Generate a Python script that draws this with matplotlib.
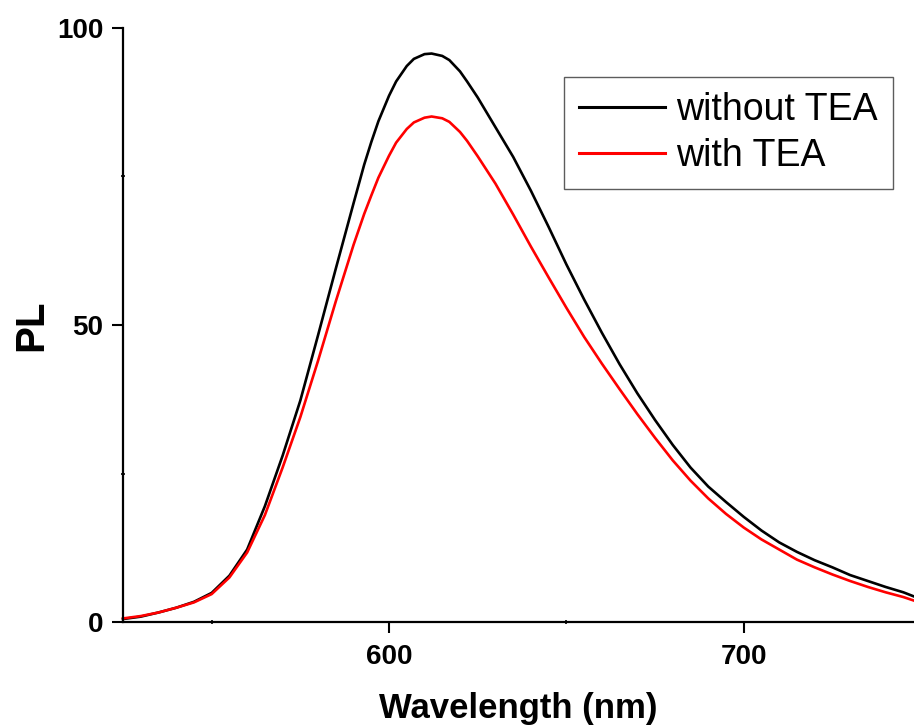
import matplotlib
matplotlib.use("Agg")
import matplotlib.pyplot as plt
from matplotlib.ticker import MultipleLocator

plt.rcParams['font.family'] = ['Liberation Sans', 'DejaVu Sans']

# Emission spectra (wavelength in nm, PL intensity in a.u.)
wavelength = [525, 530, 535, 540, 545, 550, 555, 560, 565, 570, 575, 580, 585,
              590, 593, 595, 597, 600, 602, 605, 607, 610, 612, 615, 617, 620,
              622, 625, 630, 635, 640, 645, 650, 655, 660, 665, 670, 675, 680,
              685, 690, 695, 700, 705, 710, 715, 720, 725, 730, 735, 740, 745,
              748]

pl_without_tea = [0.5, 0.9, 1.6, 2.4, 3.4, 4.9, 7.8, 12.2, 19.5, 28.0, 37.3, 48.3,
                  59.5, 70.5, 77.0, 80.8, 84.3, 88.6, 91.0, 93.6, 94.8, 95.6,
                  95.7, 95.3, 94.6, 92.7, 91.0, 88.3, 83.3, 78.3, 72.6, 66.5,
                  60.2, 54.3, 48.7, 43.4, 38.5, 34.0, 29.8, 26.0, 22.8, 20.2,
                  17.7, 15.4, 13.4, 11.8, 10.4, 9.2, 7.9, 6.9, 5.9, 5.0, 4.3]

pl_with_tea = [0.6, 1.0, 1.6, 2.4, 3.3, 4.7, 7.5, 11.7, 18.0, 26.0, 34.5, 44.0,
               54.0, 63.5, 68.7, 71.8, 74.8, 78.5, 80.7, 83.0, 84.1, 84.9,
               85.1, 84.8, 84.2, 82.5, 81.0, 78.4, 73.8, 68.6, 63.2, 58.0,
               52.9, 48.0, 43.5, 39.2, 35.0, 31.0, 27.2, 23.8, 20.8, 18.2,
               15.9, 13.9, 12.2, 10.5, 9.2, 8.0, 6.9, 5.9, 5.0, 4.2, 3.6]

series_labels = ["without TEA", "with TEA"]
series_colors = ["black", "red"]

x_ticks = [600, 700]
y_ticks = [0, 50, 100]

fig = plt.figure(figsize=(9.14, 7.28), dpi=100)
ax = fig.add_axes([123 / 914, 1 - 622 / 728, 791 / 914, 594 / 728])

ax.plot(wavelength, pl_without_tea, color=series_colors[0], lw=1.9,
        label=series_labels[0], clip_on=False, solid_joinstyle="round")
ax.plot(wavelength, pl_with_tea, color=series_colors[1], lw=1.9,
        label=series_labels[1], clip_on=False, solid_joinstyle="round")

ax.set_xlim(525, 748)
ax.set_ylim(0, 100)

for side in ("top", "right"):
    ax.spines[side].set_visible(False)
for side in ("left", "bottom"):
    ax.spines[side].set_linewidth(1.6)

ax.set_xticks(x_ticks)
ax.set_yticks(y_ticks)
ax.xaxis.set_minor_locator(MultipleLocator(50))
ax.yaxis.set_minor_locator(MultipleLocator(25))
ax.tick_params(which="major", direction="out", length=8, width=1.5,
               labelsize=20, pad=6)
ax.tick_params(axis="x", which="major", pad=8)
ax.tick_params(which="minor", direction="inout", length=3, width=1.2)
for lbl in ax.get_xticklabels() + ax.get_yticklabels():
    lbl.set_fontweight("bold")

ax.set_xlabel("Wavelength (nm)", fontsize=25, fontweight="bold", labelpad=16)
ax.set_ylabel("PL", fontsize=29, fontweight="bold", labelpad=5)

leg = ax.legend(loc="upper right", bbox_to_anchor=(0.9735, 0.9175),
                borderaxespad=0, fontsize=27, frameon=True, fancybox=False,
                handlelength=2.3, handletextpad=0.3, labelspacing=0.27,
                borderpad=0.4)
leg.get_frame().set_edgecolor("#333333")
leg.get_frame().set_linewidth(1.0)
for line in leg.get_lines():
    line.set_linewidth(2.2)

fig.savefig("out.png", dpi=100)
